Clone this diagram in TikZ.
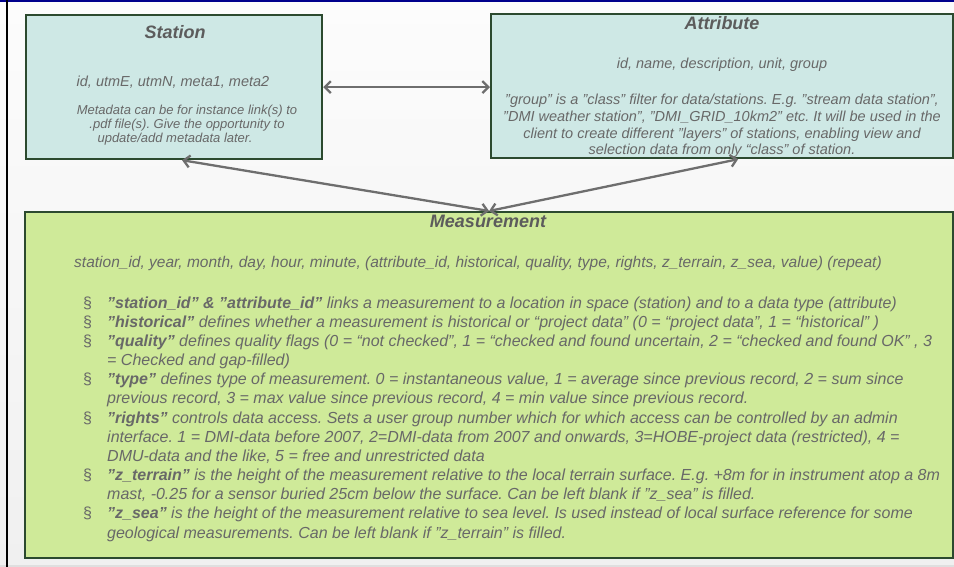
\documentclass[tikz,border=0pt]{standalone}
\usepackage{fontspec}
\setmainfont{Liberation Sans}
\usetikzlibrary{arrows.meta}
\definecolor{boxline}{HTML}{2C4A2F}
\definecolor{tealfill}{HTML}{CEE8E5}
\definecolor{greenfill}{HTML}{CFEA99}
\definecolor{txtgray}{HTML}{686868}
\definecolor{titlegray}{HTML}{5C5C5C}
\definecolor{arrowgray}{HTML}{6E6E6E}
\definecolor{navy}{HTML}{00008C}
\definecolor{bgtop}{HTML}{FCFCFC}
\definecolor{bgbot}{HTML}{F0F0F0}
\frenchspacing
\begin{document}
\begin{tikzpicture}[x=1pt,y=-1pt,
  box/.style={draw=boxline, line width=2.2pt, inner sep=0pt, anchor=north west},
  ttl/.style={anchor=base, inner sep=0pt, text=titlegray, font=\fontsize{18}{20}\selectfont\bfseries\itshape},
  fld/.style={anchor=base, inner sep=0pt, text=txtgray, font=\fontsize{14.5}{16}\selectfont\itshape},
  fldM/.style={anchor=base, inner sep=0pt, text=txtgray, font=\fontsize{15.5}{17}\selectfont\itshape},
  bodyS/.style={anchor=base, inner sep=0pt, text=txtgray, font=\fontsize{13}{15}\selectfont\itshape},
  bodyA/.style={anchor=base, inner sep=0pt, text=txtgray, font=\fontsize{14.5}{16}\selectfont\itshape},
  bl/.style={anchor=base west, inner sep=0pt, text=txtgray, font=\fontsize{16}{18}\selectfont\itshape},
  sect/.style={anchor=base west, inner sep=0pt, text=txtgray, font=\fontsize{16}{18}\selectfont},
  conn/.style={draw=arrowgray, line width=2.3pt,
    {Straight Barb[length=6pt,width=12pt]}-{Straight Barb[length=6pt,width=12pt]}}
]
\useasboundingbox (0,0) rectangle (954,567);
% background
\shade[top color=bgtop, bottom color=bgbot] (0,0) rectangle (954,567);
\fill[gray!25] (0,565) rectangle (954,567);
\fill[navy] (0,0) rectangle (954,2.5);
\fill[black] (6.3,0) rectangle (8.3,567);

% boxes
\node[box, fill=tealfill, minimum width=296pt, minimum height=144pt] (st) at (25,14) {};
\node[box, fill=tealfill, minimum width=462pt, minimum height=144pt] (at) at (490,13) {};
\node[box, fill=greenfill, minimum width=928pt, minimum height=346pt] (ms) at (24,211) {};

% Station texts
\node[ttl] (stT) at (175,39) {Station};
\node[fld] (stF) at (173,87) {id, utmE, utmN, meta1, meta2};
\node[bodyS] (stB1) at (187,115) {Metadata can be for instance link(s) to};
\node[bodyS] (stB2) at (187,129) {.pdf file(s). Give the opportunity to};
\node[bodyS] (stB3) at (175,143) {update/add metadata later.};

% Attribute texts
\node[ttl] (atT) at (722,29.5) {Attribute};
\node[fld] (atF) at (722,69) {id, name, description, unit, group};
\node[bodyA] (atB1) at (722,105) {”group” is a ”class” filter for data/stations. E.g. ”stream data station”,};
\node[bodyA] (atB2) at (722,121.7) {”DMI weather station”, ”DMI\_GRID\_10km2” etc. It will be used in the};
\node[bodyA] (atB3) at (722,138.4) {client to create different ”layers” of stations, enabling view and};
\node[bodyA] (atB4) at (722,155) {selection data from only “class” of station.};

% Measurement texts
\node[ttl] (msT) at (488,228) {Measurement};
\node[fldM] (msF) at (478,267) {station\_id, year, month, day, hour, minute, (attribute\_id, historical, quality, type, rights, z\_terrain, z\_sea, value) (repeat)};

\foreach \k/\n in {1/s1,2/s2,3/s3,5/s4,7/s5,10/s6,12/s7}{
  \node[sect] (\n) at (83,{308+19.17*(\k-1)}) {\S};
}
\node[bl] (l1) at (107,308) {\textbf{”station\_id” \& ”attribute\_id”} links a measurement to a location in space (station) and to a data type (attribute)};
\node[bl] (l2) at (107,327.17) {\textbf{”historical”} defines whether a measurement is historical or “project data” (0 = “project data”, 1 = “historical” )};
\node[bl] (l3) at (107,346.34) {\textbf{”quality”} defines quality flags (0 = “not checked”, 1 = “checked and found uncertain, 2 = “checked and found OK” , 3};
\node[bl] (l4) at (107,365.51) {= Checked and gap-filled)};
\node[bl] (l5) at (107,384.68) {\textbf{”type”} defines type of measurement. 0 = instantaneous value, 1 = average since previous record, 2 = sum since};
\node[bl] (l6) at (107,403.85) {previous record, 3 = max value since previous record, 4 = min value since previous record.};
\node[bl] (l7) at (107,423.02) {\textbf{”rights”} controls data access. Sets a user group number which for which access can be controlled by an admin};
\node[bl] (l8) at (107,442.19) {interface. 1 = DMI-data before 2007, 2=DMI-data from 2007 and onwards, 3=HOBE-project data (restricted), 4 =};
\node[bl] (l9) at (107,461.36) {DMU-data and the like, 5 = free and unrestricted data};
\node[bl] (l10) at (107,480.53) {\textbf{”z\_terrain”} is the height of the measurement relative to the local terrain surface. E.g. +8m for in instrument atop a 8m};
\node[bl] (l11) at (107,499.7) {mast, -0.25 for a sensor buried 25cm below the surface. Can be left blank if ”z\_sea” is filled.};
\node[bl] (l12) at (107,518.87) {\textbf{”z\_sea”} is the height of the measurement relative to sea level. Is used instead of local surface reference for some};
\node[bl] (l13) at (107,538.04) {geological measurements. Can be left blank if ”z\_terrain” is filled.};

% connectors
\draw[conn] (st.east) -- (st.east -| at.west);
\draw[conn] ([xshift=8pt]st.south) -- (ms.north);
\draw[conn] ([xshift=16pt]at.south) -- (ms.north);
\end{tikzpicture}
\end{document}
